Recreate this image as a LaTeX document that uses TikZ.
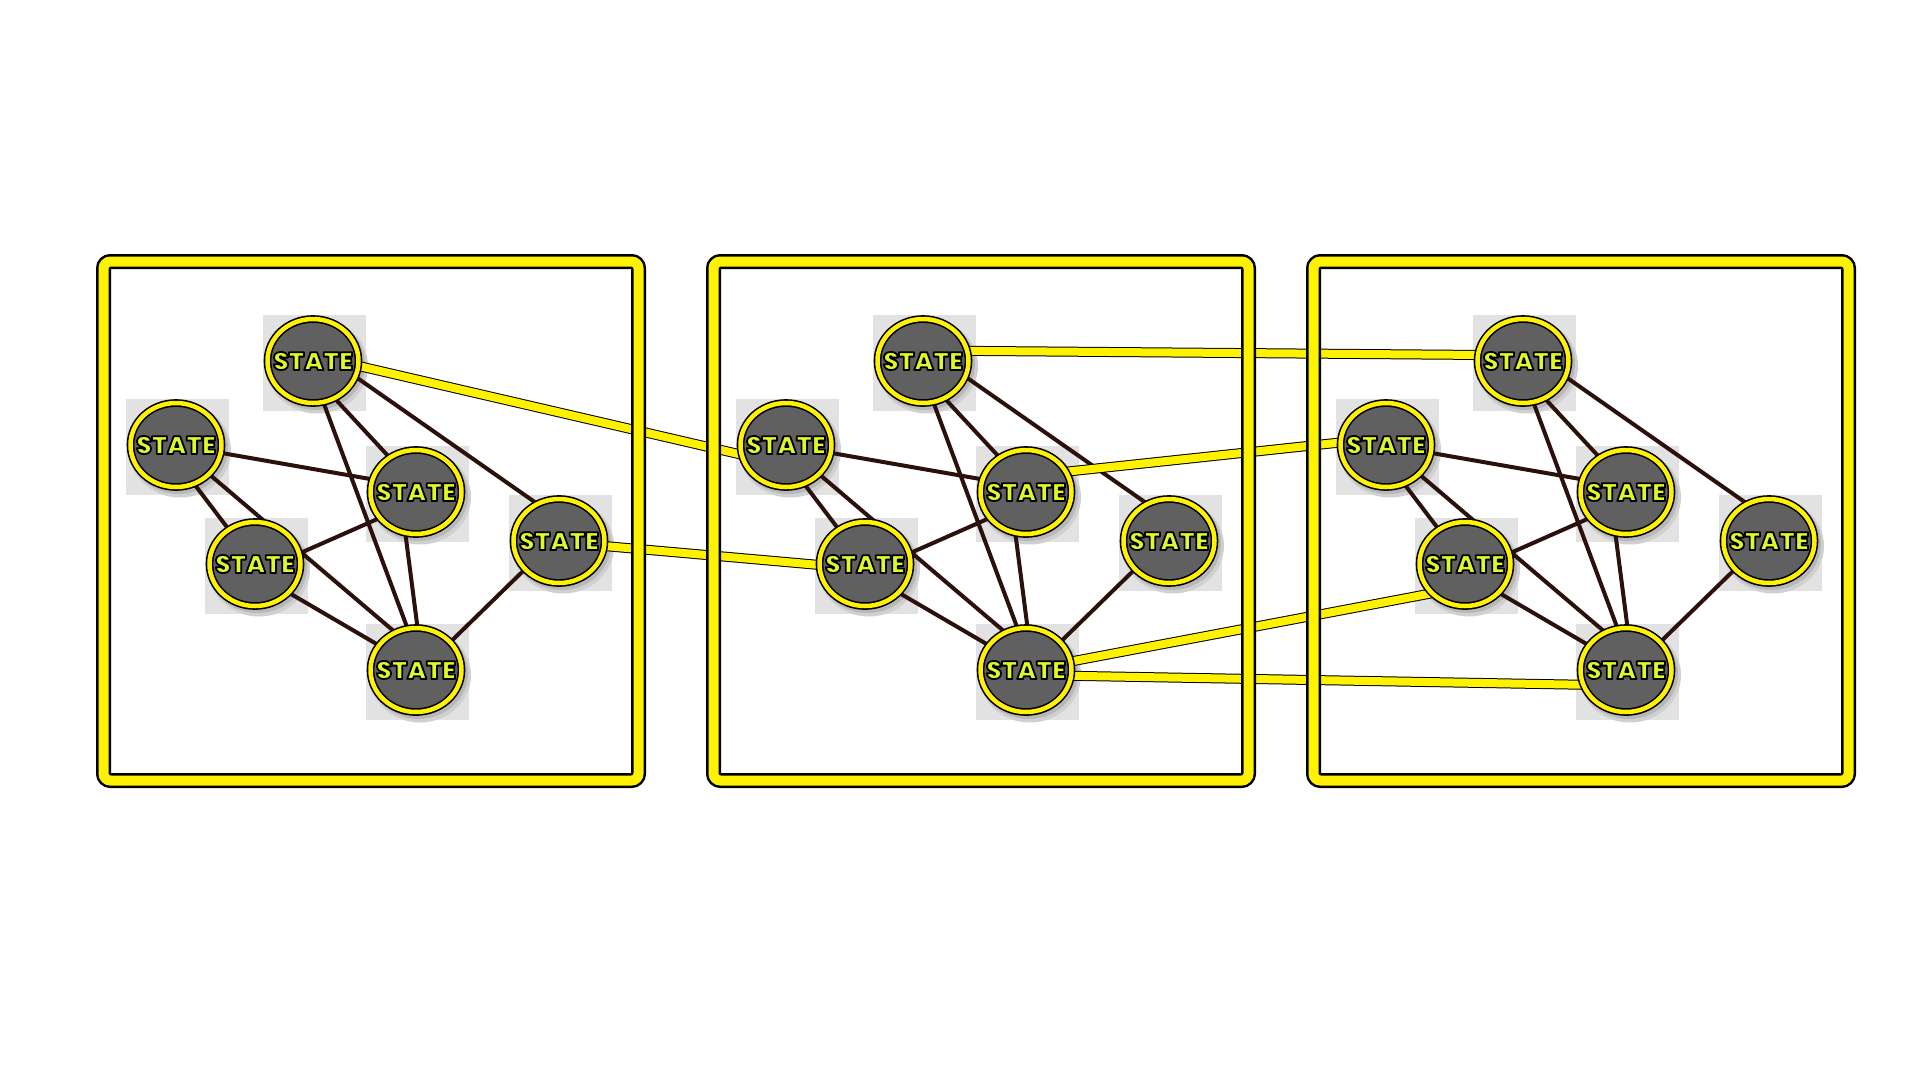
\documentclass[tikz,border=0pt]{standalone}
\usepackage{fontspec}
\usepackage{graphicx}
\usetikzlibrary{shapes.geometric,calc}
\newfontfamily\statefont{Poppins Black}
\definecolor{ringyel}{RGB}{255,242,0}
\definecolor{txtyel}{RGB}{222,248,40}
\definecolor{nodegray}{RGB}{96,96,96}
\definecolor{edgecol}{RGB}{43,16,12}
\definecolor{sqcol}{RGB}{226,226,226}
\definecolor{shcolA}{RGB}{208,208,208}
\definecolor{shcolB}{RGB}{184,184,184}
\pgfdeclarelayer{bgwhite}
\pgfdeclarelayer{bg}
\pgfdeclarelayer{edges}
\pgfdeclarelayer{frames}
\pgfsetlayers{bgwhite,bg,edges,frames,main}
\newcommand\outlined[1]{\special{pdf:code 0 0 0 RG 1.8 w 1 j 2 Tr}#1\special{pdf:code 0 Tr}}
\tikzset{
  statenode/.style={ellipse, inner sep=0pt, minimum width=91pt, minimum height=84pt,
    fill=nodegray, draw=black, line width=1.6pt, double=ringyel, double distance=4.5pt},
  txty/.style={text=txtyel, inner sep=0pt, font=\statefont\fontsize{25}{26}\selectfont},
  inedge/.style={draw=edgecol, line width=4pt},
  xedge/.style={draw=black, line width=1pt, double=ringyel, double distance=8pt},
  framebox/.style={draw=black, line width=2.5pt, double=ringyel, double distance=10pt, rounded corners=7pt},
}
\newcommand\stnode[3]{%
  \begin{pgfonlayer}{bg}
    \fill[sqcol] (#2-50,#3-46) rectangle (#2+53,#3+50);
    \fill[shcolA] (#2+4,#3+5) ellipse [x radius=51pt, y radius=47.5pt];
    \fill[shcolB] (#2+2.5,#3+3) ellipse [x radius=49.5pt, y radius=46pt];
  \end{pgfonlayer}
  \node[statenode] (#1) at (#2,#3) {};
  \node[txty] (#1-t) at (#1) {\outlined{STATE}};
}
\begin{document}
\begin{tikzpicture}[x=1pt,y=-1pt]
\begin{pgfonlayer}{bgwhite}
  \fill[white] (0,0) rectangle (1920,1080);
\end{pgfonlayer}
\useasboundingbox (0,0) rectangle (1920,1080);
\foreach \i/\dx in {1/0,2/610,3/1210}{
  \stnode{T\i}{313+\dx}{361}
  \stnode{L\i}{176+\dx}{445}
  \stnode{M\i}{416+\dx}{492}
  \stnode{LL\i}{255+\dx}{564}
  \stnode{B\i}{416+\dx}{670}
  \stnode{R\i}{559+\dx}{541}
  \begin{pgfonlayer}{edges}
    \draw[inedge] ($(T\i)+(0,14)$) -- ($(M\i)+(0,-6)$);
    \draw[inedge] ($(T\i)+(-5,0)$) -- ($(B\i)+(7,0)$);
    \draw[inedge] ($(T\i)+(0,-14)$) -- ($(R\i)+(0,-22)$);
    \draw[inedge] ($(L\i)+(0,0)$) -- ($(M\i)+(0,-5)$);
    \draw[inedge] ($(L\i)+(0,15)$) -- (LL\i);
    \draw[inedge] ($(L\i)+(0,1)$) -- ($(B\i)+(0,-20)$);
    \draw[inedge] ($(LL\i)+(0,9)$) -- ($(M\i)+(0,10)$);
    \draw[inedge] ($(LL\i)+(0,9)$) -- ($(B\i)+(0,-3)$);
    \draw[inedge] ($(M\i)+(-16,0)$) -- ($(B\i)+(7,0)$);
    \draw[inedge] ($(R\i)+(0,-5)$) -- ($(B\i)+(0,5.5)$);
  \end{pgfonlayer}
  \begin{pgfonlayer}{frames}
    \draw[framebox] (103.5+\dx,261.5) rectangle (638.5+\dx,780.5);
  \end{pgfonlayer}
}
\begin{pgfonlayer}{edges}
  \draw[xedge] ($(T1)+(0,-5.6)$) -- ($(L2)+(0,20)$);
  \draw[xedge] ($(R1)+(0,1)$) -- ($(LL2)+(0,5)$);
  \draw[xedge] ($(T2)+(0,-10.5)$) -- ($(T3)+(0,-5.7)$);
  \draw[xedge] ($(M2)+(0,-16)$) -- ($(L3)+(0,-7.4)$);
  \draw[xedge] (B2) -- ($(LL3)+(0,23)$);
  \draw[xedge] ($(B2)+(0,5)$) -- ($(B3)+(0,15.5)$);
\end{pgfonlayer}
\end{tikzpicture}
\end{document}
